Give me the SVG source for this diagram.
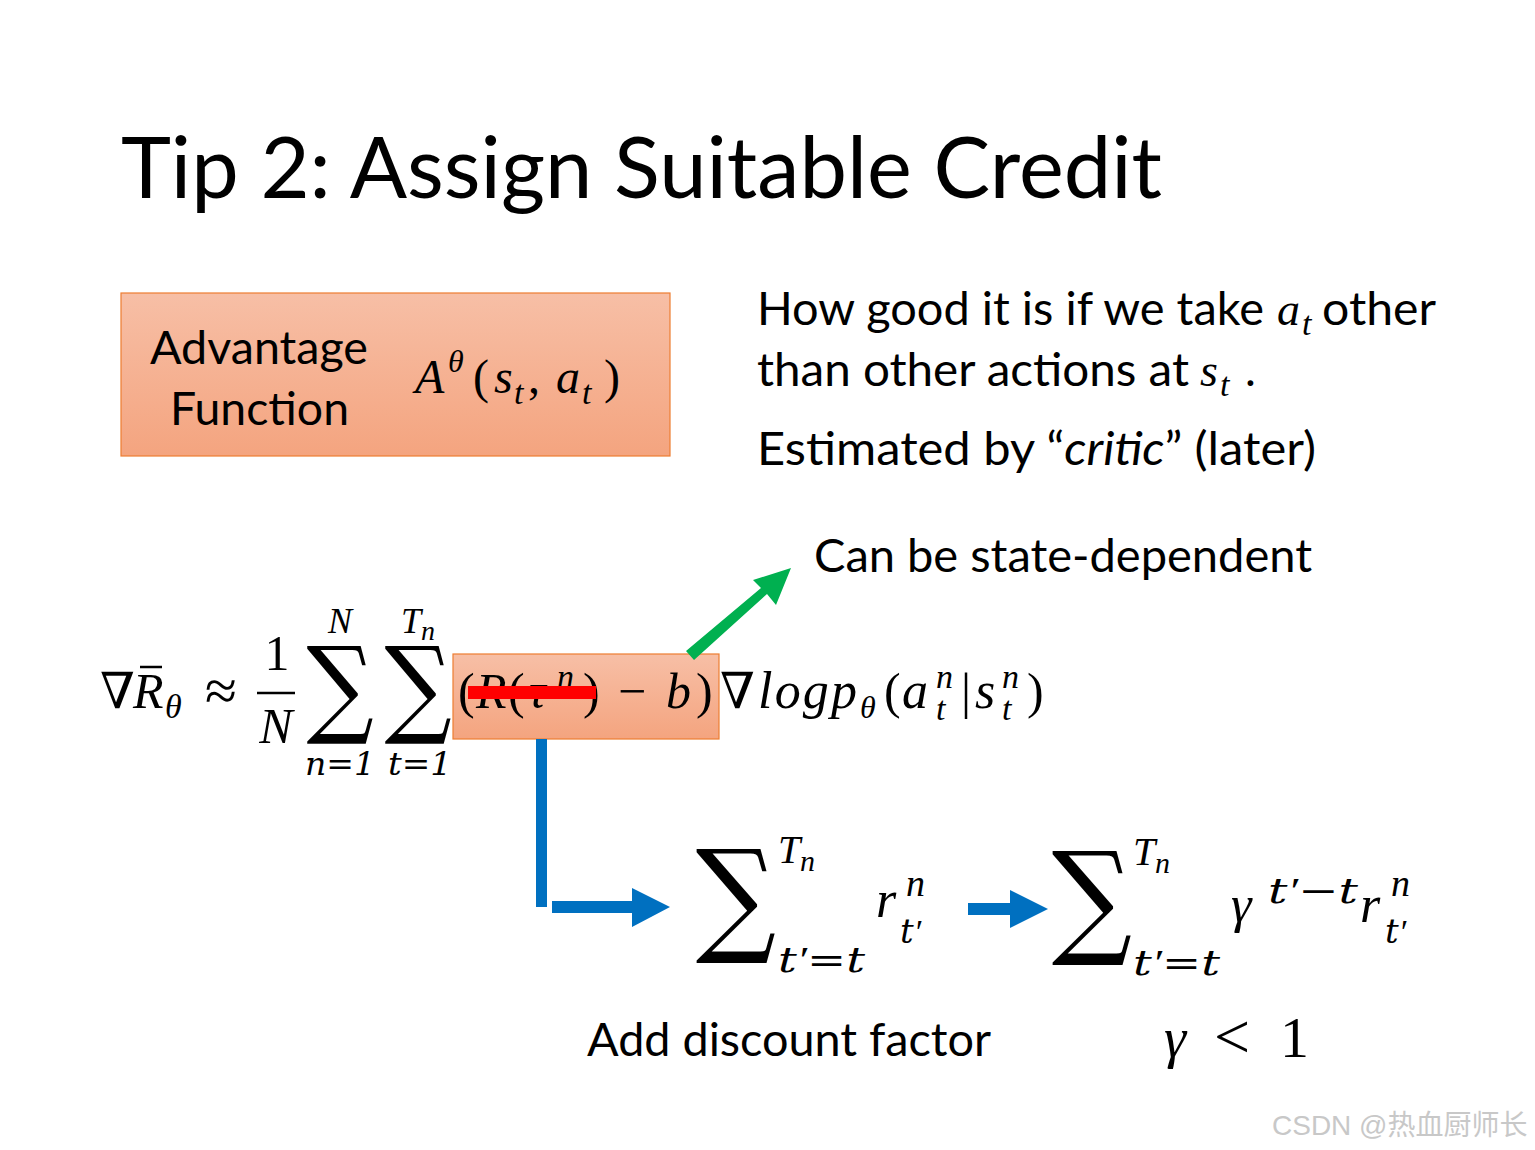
<svg xmlns="http://www.w3.org/2000/svg" width="1535" height="1150" viewBox="0 0 1535 1150">
<defs>
<linearGradient id="peach" x1="0" y1="0" x2="0" y2="1">
<stop offset="0" stop-color="#F7BFA6"/>
<stop offset="1" stop-color="#F4A47F"/>
</linearGradient>
<style>
.sans{font-family:Lato,"Open Sans","Liberation Sans",sans-serif;fill:#000}
.m{font-family:"Liberation Serif","DejaVu Serif",serif;font-style:italic;fill:#000}
.mw{font-family:"DejaVu Serif","Liberation Serif",serif;font-style:italic;fill:#000}
.mu{font-family:"Liberation Serif","DejaVu Serif",serif;font-style:normal;fill:#000}
.pr{font-family:"Liberation Serif",serif;font-style:italic}
.sig{font-family:"DejaVu Serif",serif;fill:#000}
.box{fill:url(#peach);stroke:#ED7D31;stroke-width:1.2}
</style>
</defs>
<rect width="1535" height="1150" fill="#fff"/>

<g id="title">
<text class="sans" x="121" y="198" font-size="86" textLength="1041" lengthAdjust="spacingAndGlyphs">Tip 2: Assign Suitable Credit</text>
</g>

<g id="advantage-box">
<rect class="box" x="121" y="293" width="549" height="163"/>
<text class="sans" x="150" y="364" font-size="46" textLength="218" lengthAdjust="spacingAndGlyphs">Advantage</text>
<text class="sans" x="170" y="425" font-size="46" textLength="179" lengthAdjust="spacingAndGlyphs">Function</text>
<text class="m" x="415" y="393" font-size="48">A</text>
<text class="m" x="448" y="372" font-size="32">θ</text>
<text class="mu" x="473" y="393" font-size="48">(</text>
<text class="m" x="494" y="393" font-size="48">s</text>
<text class="m" x="514" y="404" font-size="34">t</text>
<text class="mu" x="528" y="393" font-size="48">,</text>
<text class="m" x="556" y="393" font-size="48">a</text>
<text class="m" x="582" y="404" font-size="34">t</text>
<text class="mu" x="604" y="393" font-size="48">)</text>
</g>

<g id="description">
<text class="sans" x="757" y="325" font-size="46" textLength="507" lengthAdjust="spacingAndGlyphs">How good it is if we take</text>
<text class="m" x="1277" y="325" font-size="46">a</text>
<text class="m" x="1302" y="335" font-size="34">t</text>
<text class="sans" x="1322" y="325" font-size="46" textLength="114" lengthAdjust="spacingAndGlyphs">other</text>
<text class="sans" x="757" y="386" font-size="46" textLength="432" lengthAdjust="spacingAndGlyphs">than other actions at</text>
<text class="m" x="1200" y="386" font-size="46">s</text>
<text class="m" x="1220" y="396" font-size="34">t</text>
<text class="sans" x="1245" y="386" font-size="46">.</text>
<text class="sans" x="757" y="465" font-size="46" textLength="559" lengthAdjust="spacingAndGlyphs">Estimated by “<tspan font-style="italic">critic</tspan>” (later)</text>
</g>

<g id="state-dependent">
<text class="sans" x="814" y="572" font-size="46" textLength="498" lengthAdjust="spacingAndGlyphs">Can be state-dependent</text>
</g>

<g id="equation">
<text class="m" x="100" y="708" font-size="50">∇</text>
<text class="m" x="133" y="708" font-size="50">R</text>
<line x1="140" y1="667" x2="162" y2="667" stroke="#000" stroke-width="2.5"/>
<text class="m" x="165" y="718" font-size="34">θ</text>
<text class="mu" x="205" y="710" font-size="58">≈</text>
<text class="mu" x="277" y="670" font-size="50" text-anchor="middle">1</text>
<line x1="257" y1="693" x2="295" y2="693" stroke="#000" stroke-width="2.5"/>
<text class="m" x="276" y="743" font-size="50" text-anchor="middle">N</text>
<text class="sig" transform="translate(340,723) scale(0.88,1)" font-size="107" text-anchor="middle">∑</text>
<text class="m" x="340" y="633" font-size="36" text-anchor="middle">N</text>
<text class="mw" x="305" y="775" font-size="32" textLength="70" lengthAdjust="spacingAndGlyphs">n=1</text>
<text class="sig" transform="translate(418,723) scale(0.88,1)" font-size="107" text-anchor="middle">∑</text>
<text class="m" x="401" y="633" font-size="36">T</text>
<text class="m" x="421" y="640" font-size="28">n</text>
<text class="mw" x="388" y="775" font-size="32" textLength="64" lengthAdjust="spacingAndGlyphs">t=1</text>
</g>

<g id="baseline-box">
<rect class="box" x="453" y="654" width="266" height="85"/>
<text class="mu" x="458" y="708" font-size="50">(</text>
<text class="m" x="476" y="708" font-size="50">R</text>
<text class="mu" x="508" y="708" font-size="50">(</text>
<text class="m" x="528" y="708" font-size="50">τ</text>
<text class="m" x="557" y="688" font-size="34">n</text>
<text class="mu" x="583" y="708" font-size="50">)</text>
<text class="mu" x="618" y="708" font-size="50">−</text>
<text class="m" x="666" y="708" font-size="50">b</text>
<text class="mu" x="696" y="708" font-size="50">)</text>
<rect x="468" y="686" width="128" height="13" fill="#FF0000"/>
</g>

<g id="log-term">
<text class="m" x="720" y="708" font-size="50">∇</text>
<text class="m" x="758" y="708" font-size="52" textLength="99" lengthAdjust="spacing">logp</text>
<text class="m" x="860" y="718" font-size="32">θ</text>
<text class="mu" x="884" y="708" font-size="50">(</text>
<text class="m" x="902" y="708" font-size="52">a</text>
<text class="m" x="936" y="688" font-size="34">n</text>
<text class="m" x="936" y="720" font-size="34">t</text>
<text class="mu" x="961" y="708" font-size="50">|</text>
<text class="m" x="975" y="708" font-size="52">s</text>
<text class="m" x="1002" y="688" font-size="34">n</text>
<text class="m" x="1002" y="720" font-size="34">t</text>
<text class="mu" x="1027" y="708" font-size="50">)</text>
</g>

<g id="sum-reward">
<text class="sig" transform="translate(736,939) scale(0.9,1)" font-size="125" text-anchor="middle">∑</text>
<text class="m" x="778" y="863" font-size="40">T</text>
<text class="m" x="800" y="871" font-size="30">n</text>
<text class="mw" x="778" y="972" font-size="36" textLength="87" lengthAdjust="spacingAndGlyphs">t<tspan class="pr">′</tspan>=t</text>
<text class="m" x="876" y="917" font-size="52">r</text>
<text class="m" x="906" y="896" font-size="38">n</text>
<text class="mw" x="900" y="943" font-size="34">t<tspan class="pr">′</tspan></text>
</g>

<g id="sum-discounted">
<text class="sig" transform="translate(1092,941) scale(0.9,1)" font-size="125" text-anchor="middle">∑</text>
<text class="m" x="1133" y="865" font-size="40">T</text>
<text class="m" x="1155" y="873" font-size="30">n</text>
<text class="mw" x="1133" y="975" font-size="36" textLength="87" lengthAdjust="spacingAndGlyphs">t<tspan class="pr">′</tspan>=t</text>
<text class="m" x="1231" y="922" font-size="52">γ</text>
<text class="mw" x="1268" y="903" font-size="36" textLength="90" lengthAdjust="spacingAndGlyphs">t<tspan class="pr">′</tspan>−t</text>
<text class="m" x="1360" y="922" font-size="52">r</text>
<text class="m" x="1391" y="896" font-size="38">n</text>
<text class="mw" x="1385" y="943" font-size="34">t<tspan class="pr">′</tspan></text>
</g>

<g id="labels">
<text class="sans" x="587" y="1056" font-size="46" textLength="404" lengthAdjust="spacingAndGlyphs">Add discount factor</text>
<text class="m" x="1164" y="1057" font-size="56">γ</text>
<text class="mu" x="1214" y="1058" font-size="64">&lt;</text>
<text class="mu" x="1280" y="1057" font-size="58">1</text>
</g>

<g id="connectors">
<polygon fill="#00B050" points="686,651 694,660 767,594 776,605 791,568 753,580 761,588"/>
<rect x="536" y="739" width="11" height="168" fill="#0070C0"/>
<polygon fill="#0070C0" points="552,901 632,901 632,888 670,907 632,927 632,913 552,913"/>
<polygon fill="#0070C0" points="968,903 1010,903 1010,890 1048,909 1010,928 1010,915 968,915"/>
</g>

<g id="watermark">
<text x="1272" y="1135" font-size="28" fill="#C8C8C8" font-family="'Liberation Sans','Noto Sans CJK SC',sans-serif">CSDN @热血厨师长</text>
</g>
</svg>
